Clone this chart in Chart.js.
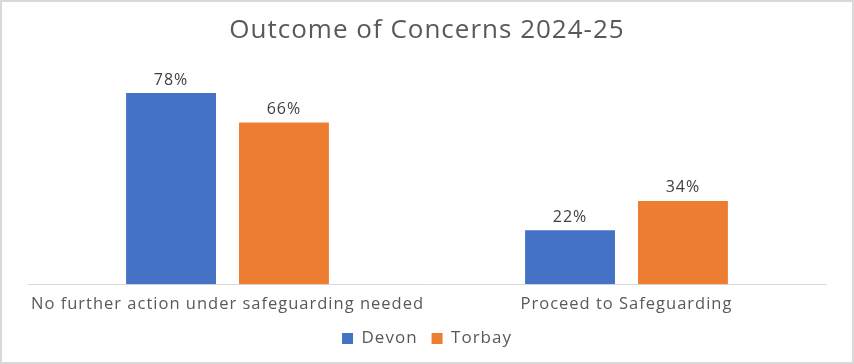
<!DOCTYPE html>
<html>
<head>
<meta charset="utf-8">
<script src="https://cdn.jsdelivr.net/npm/chart.js@4"></script>
<style>
  body { margin: 0; background: #fff; }
  #wrap { width: 850px; height: 360px; border: 2px solid #d9d9d9; }
</style>
</head>
<body>
<div id="wrap"><canvas id="myChart" width="850" height="360"></canvas></div>
<script>
const categories = ['No further action under safeguarding needed', 'Proceed to Safeguarding'];
const devonValues = [78, 22];
const torbayValues = [66, 34];
const seriesNames = ['Devon', 'Torbay'];

// the original text looks a bit stretched, so widen it a little
const wideText = {
  id: 'wideText',
  beforeUpdate(chart) { chart.ctx.letterSpacing = '1px'; },
  beforeDraw(chart) { chart.ctx.letterSpacing = '1px'; }
};

// draws the % labels above each bar (no datalabels plugin available offline)
const barLabels = {
  id: 'barLabels',
  afterDatasetsDraw(chart) {
    const ctx = chart.ctx;
    ctx.save();
    ctx.font = '16px "Open Sans"';
    ctx.fillStyle = '#404040';
    ctx.textAlign = 'center';
    ctx.textBaseline = 'bottom';
    chart.data.datasets.forEach((ds, i) => {
      chart.getDatasetMeta(i).data.forEach((bar, j) => {
        ctx.fillText(ds.data[j] + '%', bar.x, bar.y - 5);
      });
    });
    ctx.restore();
  }
};

const ctx = document.getElementById('myChart');
let myChart = new Chart(ctx, {
  type: 'bar',
  data: {
    labels: categories,
    datasets: [{
      label: seriesNames[0],
      data: devonValues,
      backgroundColor: '#4472C4',
      categoryPercentage: 0.566,
      barPercentage: 0.796
    }, {
      label: seriesNames[1],
      data: torbayValues,
      backgroundColor: '#ED7D31',
      categoryPercentage: 0.566,
      barPercentage: 0.796
    }]
  },
  options: {
    responsive: false,
    animation: false,
    layout: { padding: { left: 26, right: 26, bottom: 5 } },
    plugins: {
      title: {
        display: true,
        text: 'Outcome of Concerns 2024-25',
        color: '#595959',
        font: { family: 'Open Sans', size: 26, weight: 'normal' },
        padding: { top: 13, bottom: 17.5 }
      },
      legend: {
        position: 'bottom',
        labels: {
          color: '#595959',
          font: { family: 'Open Sans', size: 17 },
          boxWidth: 11,
          boxHeight: 11,
          padding: 14
        }
      },
      tooltip: { enabled: false }
    },
    scales: {
      x: {
        grid: { display: false },
        border: { color: '#d9d9d9', width: 1 },
        ticks: {
          color: '#595959',
          font: { family: 'Open Sans', size: 16.5 },
          padding: 2,
          maxRotation: 0,
          minRotation: 0,
          autoSkip: false
        }
      },
      y: {
        display: false,
        min: 0,
        max: 90
      }
    }
  },
  plugins: [wideText, barLabels]
});
</script>
</body>
</html>
